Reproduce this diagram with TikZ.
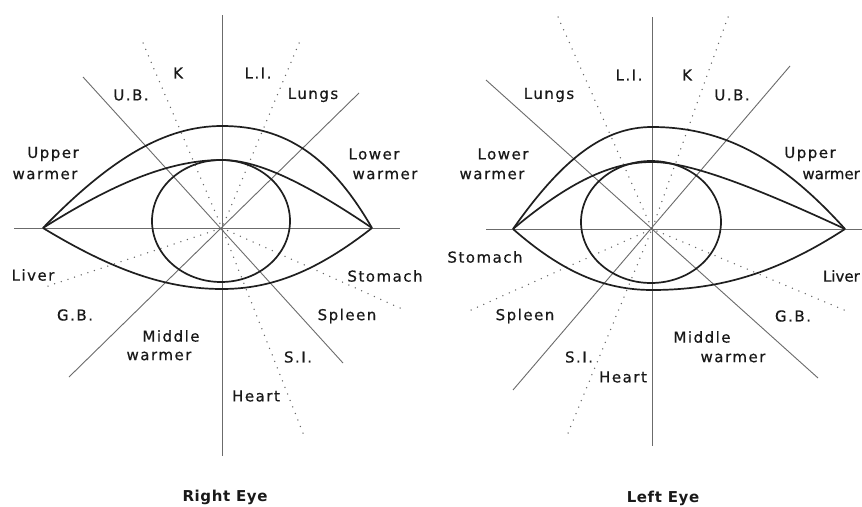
\documentclass[tikz,border=0pt]{standalone}
\usepackage{fontspec}
\setmainfont{DejaVu Sans}[LetterSpace=10, FakeBold=0.6]
\newfontfamily\tightfont{DejaVu Sans}[LetterSpace=0, FakeBold=0.6]
\newfontfamily\titlefont{DejaVu Sans}[LetterSpace=4]
\begin{document}
\begin{tikzpicture}[x=1pt,y=-1pt,
  axis/.style={draw=black!58, line width=0.9pt},
  dots/.style={draw=black!60, line width=1.5pt, line cap=round, dash pattern=on 0pt off 7pt},
  lid/.style={draw=black!88, line width=1.7pt},
  lbl/.style={font={\fontsize{15}{18}\selectfont}, text=black!90, inner sep=0pt},
  tlbl/.style={font={\tightfont\fontsize{15}{18}\selectfont}, text=black!90, inner sep=0pt},
  ttl/.style={font={\titlefont\bfseries\fontsize{15}{18}\selectfont}, text=black!90, inner sep=0pt}]
\useasboundingbox (0,0) rectangle (862,506);
\clip (0,0) rectangle (862,506);
\fill[white] (0,0) rectangle (862,506);

% ---------------- Right eye ----------------
\coordinate (rc) at (222,228);
\coordinate (rA) at (43,228);
\coordinate (rB) at (372,228);
% axes
\draw[axis] (222,15) -- (222,456);
\draw[axis] (14,228) -- (400,228);
\draw[axis] (83,77) -- (343,363);
\draw[axis] (359,93) -- (69,377);
% dotted meridians
\draw[dots] (143,43) -- (rc);
\draw[dots] (299,43) -- (rc);
\draw[dots] (48,286) -- (rc);
\draw[dots] (400,308) -- (rc);
\draw[dots] (303,433) -- (rc);
% lids and iris
\draw[lid] (rA) .. controls (112,157) and (166,126) .. (222,126) .. controls (286,126) and (331,157) .. (rB);
\draw[lid] (rA) .. controls (119,180) and (173,160) .. (222,160) .. controls (256,160) and (301,180) .. (rB);
\draw[lid] (rA) .. controls (114,271) and (167,289) .. (222,289) .. controls (272,289) and (317,271) .. (rB);
\draw[lid] (221,221) ellipse [x radius=69pt, y radius=61pt];
% labels
\node[lbl] (rK) at (178,73) {K};
\node[lbl] (rUB) at (131,95) {U.B.};
\node[lbl] (rLI) at (258,73) {L.I.};
\node[lbl] (rLu) at (313,95) {Lungs};
\node[lbl] (rUw1) at (53,154) {Upper};
\node[lbl] (rUw2) at (45,175) {warmer};
\node[lbl] (rLw1) at (374,154) {Lower};
\node[lbl] (rLw2) at (385,175) {warmer};
\node[lbl] (rLiv) at (33,275) {Liver};
\node[lbl] (rGB) at (75,315) {G.B.};
\node[lbl] (rMw1) at (171,336) {Middle};
\node[lbl] (rMw2) at (159,356) {warmer};
\node[lbl] (rSt) at (385,276) {Stomach};
\node[lbl] (rSp) at (347,316) {Spleen};
\node[lbl] (rSI) at (298,357) {S.I.};
\node[lbl] (rHe) at (256,396) {Heart};
\node[ttl] (rT) at (225,497) {Right Eye};

% ---------------- Left eye ----------------
\coordinate (lc) at (652,229);
\coordinate (lA) at (513,229);
\coordinate (lB) at (845,229);
\draw[axis] (652,17) -- (652,446);
\draw[axis] (486,229) -- (862,229);
\draw[axis] (486,80) -- (818,378);
\draw[axis] (790,66) -- (513,390);
\draw[dots] (558,17) -- (lc);
\draw[dots] (728,17) -- (lc);
\draw[dots] (471,310) -- (lc);
\draw[dots] (844,310) -- (lc);
\draw[dots] (568,433) -- (lc);
\draw[lid] (lA) .. controls (563,158) and (604,127) .. (652,127) .. controls (723,127) and (781,158) .. (lB);
\draw[lid] (lA) .. controls (569,182) and (611,162) .. (652,162) .. controls (686,162) and (744,182) .. (lB);
\draw[lid] (lA) .. controls (562,272) and (604,290) .. (652,290) .. controls (721,290) and (779,272) .. (lB);
\draw[lid] (651,222) ellipse [x radius=70pt, y radius=61pt];
\node[lbl] (lLI) at (629,75) {L.I.};
\node[lbl] (lK) at (687,75) {K};
\node[lbl] (lLu) at (549,95) {Lungs};
\node[lbl] (lUB) at (732,95) {U.B.};
\node[lbl] (lLw1) at (503,154) {Lower};
\node[lbl] (lLw2) at (492,175) {warmer};
\node[lbl] (lUw1) at (810,154) {Upper};
\node[tlbl, anchor=east] (lUw2) at (860,175) {warmer};
\node[lbl] (lSt) at (485,257) {Stomach};
\node[tlbl, anchor=east] (lLiv) at (860,276) {Liver};
\node[lbl] (lSp) at (525,316) {Spleen};
\node[lbl] (lGB) at (793,316) {G.B.};
\node[lbl] (lMw1) at (702,337) {Middle};
\node[lbl] (lMw2) at (733,358) {warmer};
\node[lbl] (lSI) at (579,357) {S.I.};
\node[lbl] (lHe) at (623,377) {Heart};
\node[ttl] (lT) at (663,498) {Left Eye};
\end{tikzpicture}
\end{document}
